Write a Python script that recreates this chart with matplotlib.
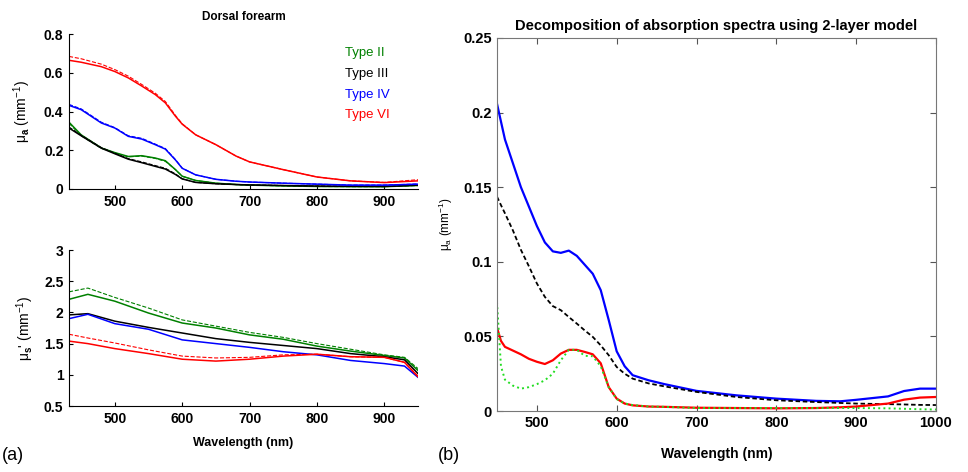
import numpy as np
import matplotlib
matplotlib.use("Agg")
import matplotlib.pyplot as plt

plt.rcParams['font.family'] = ['Liberation Sans', 'DejaVu Sans']
plt.rcParams['mathtext.fontset'] = 'custom'
plt.rcParams['mathtext.rm'] = 'Liberation Sans'
plt.rcParams['mathtext.it'] = 'Liberation Sans:italic'
plt.rcParams['mathtext.bf'] = 'Liberation Sans:bold'

# ---- (a) top: absorption, dorsal forearm ----
wl_abs = [432, 450, 480, 500, 520, 540, 560, 575, 590, 600, 620, 650, 680, 700, 750, 800, 850, 900, 950]
mua_type2 = [0.345, 0.28, 0.212, 0.188, 0.168, 0.172, 0.16, 0.146, 0.10, 0.066, 0.044, 0.03, 0.023, 0.02, 0.016, 0.013, 0.012, 0.012, 0.018]
mua_type2_b = [0.34, 0.275, 0.21, 0.186, 0.166, 0.17, 0.158, 0.143, 0.10, 0.066, 0.044, 0.03, 0.023, 0.02, 0.016, 0.013, 0.012, 0.012, 0.018]
mua_type3 = [0.315, 0.275, 0.211, 0.182, 0.154, 0.136, 0.117, 0.103, 0.075, 0.052, 0.034, 0.027, 0.023, 0.021, 0.018, 0.015, 0.014, 0.013, 0.02]
mua_type3_b = [0.32, 0.278, 0.214, 0.185, 0.157, 0.14, 0.121, 0.107, 0.078, 0.053, 0.034, 0.027, 0.023, 0.021, 0.018, 0.015, 0.014, 0.013, 0.02]
mua_type4 = [0.432, 0.41, 0.341, 0.315, 0.272, 0.258, 0.229, 0.206, 0.15, 0.107, 0.073, 0.05, 0.04, 0.036, 0.03, 0.025, 0.02, 0.02, 0.025]
mua_type4_b = [0.437, 0.414, 0.345, 0.317, 0.275, 0.262, 0.232, 0.209, 0.152, 0.108, 0.073, 0.05, 0.04, 0.036, 0.03, 0.025, 0.02, 0.02, 0.026]
mua_type6 = [0.665, 0.655, 0.632, 0.607, 0.574, 0.532, 0.488, 0.445, 0.376, 0.335, 0.28, 0.229, 0.17, 0.14, 0.10, 0.062, 0.042, 0.033, 0.042]
mua_type6_b = [0.685, 0.673, 0.645, 0.617, 0.583, 0.540, 0.495, 0.452, 0.38, 0.337, 0.28, 0.229, 0.17, 0.14, 0.10, 0.062, 0.042, 0.034, 0.048]

# ---- (a) bottom: reduced scattering ----
wl_sca = [432, 460, 500, 550, 600, 650, 700, 750, 800, 850, 900, 930, 950]
mus_type2 = [2.21, 2.29, 2.18, 1.99, 1.83, 1.75, 1.64, 1.57, 1.46, 1.38, 1.31, 1.27, 1.07]
mus_type2_b = [2.33, 2.39, 2.24, 2.07, 1.88, 1.78, 1.68, 1.60, 1.50, 1.41, 1.32, 1.28, 1.10]
mus_type3 = [1.96, 1.98, 1.86, 1.76, 1.67, 1.58, 1.52, 1.47, 1.42, 1.34, 1.29, 1.24, 1.02]
mus_type4 = [1.90, 1.97, 1.82, 1.73, 1.56, 1.50, 1.44, 1.37, 1.32, 1.23, 1.18, 1.14, 0.96]
mus_type6 = [1.54, 1.50, 1.42, 1.34, 1.25, 1.22, 1.25, 1.30, 1.33, 1.29, 1.28, 1.20, 0.97]
mus_type6_b = [1.65, 1.59, 1.51, 1.40, 1.30, 1.27, 1.28, 1.32, 1.33, 1.29, 1.28, 1.20, 0.98]

# ---- (b) two-layer decomposition ----
wl_dec = [450, 455, 460, 470, 480, 490, 500, 510, 520, 530, 540, 550, 560, 570, 580, 590,
          600, 610, 620, 640, 660, 700, 750, 800, 850, 880, 900, 940, 960, 980, 1000]
dec_blue = [0.206, 0.194, 0.182, 0.166, 0.150, 0.137, 0.124, 0.113, 0.107, 0.106, 0.1075, 0.104, 0.098, 0.092, 0.081, 0.061,
            0.040, 0.030, 0.024, 0.0206, 0.018, 0.0135, 0.0105, 0.0083, 0.0068, 0.0065, 0.0075, 0.0098, 0.0134, 0.015, 0.015]
dec_black = [0.1437, 0.138, 0.1325, 0.121, 0.108, 0.097, 0.0855, 0.0765, 0.0703, 0.0676, 0.063, 0.0586, 0.054, 0.0497, 0.044, 0.0374,
             0.0295, 0.025, 0.0217, 0.0185, 0.0165, 0.0128, 0.0094, 0.0072, 0.006, 0.0054, 0.005, 0.0046, 0.0044, 0.0041, 0.004]
dec_red = [0.056, 0.047, 0.043, 0.0405, 0.038, 0.035, 0.033, 0.0315, 0.034, 0.0385, 0.041, 0.041, 0.0396, 0.038, 0.032, 0.016,
           0.0083, 0.005, 0.0038, 0.003, 0.0028, 0.0022, 0.002, 0.0018, 0.002, 0.0025, 0.003, 0.005, 0.0076, 0.009, 0.0094]
dec_green = [0.073, 0.030, 0.021, 0.017, 0.015, 0.016, 0.018, 0.0206, 0.025, 0.034, 0.041, 0.041, 0.037, 0.0367, 0.030, 0.016,
             0.008, 0.005, 0.004, 0.003, 0.0028, 0.002, 0.002, 0.002, 0.002, 0.002, 0.002, 0.0018, 0.0015, 0.0012, 0.001]

type_names = ['Type II', 'Type III', 'Type IV', 'Type VI']
type_colors = ['#008000', '#000000', '#0000ff', '#ff0000']

fig = plt.figure(figsize=(9.68, 4.72), dpi=100)
ax_top = fig.add_axes([0.0713, 0.5996, 0.3605, 0.328])
ax_bot = fig.add_axes([0.0713, 0.1398, 0.3605, 0.3305])
ax_b = fig.add_axes([0.5134, 0.1292, 0.4535, 0.7903])

tick_font = dict(fontsize=10, fontweight='bold')

for ax in (ax_top, ax_bot):
  ax.spines['top'].set_visible(False)
  ax.spines['right'].set_visible(False)
  ax.tick_params(direction='in', length=3, width=0.8, top=False, right=False, pad=4)
  ax.set_xlim(432, 950)
  ax.set_xticks([500, 600, 700, 800, 900])

# absorption
pairs_top = [(mua_type2, mua_type2_b), (mua_type3, mua_type3_b),
             (mua_type4, mua_type4_b), (mua_type6, mua_type6_b)]
for (solid, dashed), c in zip(pairs_top, type_colors):
  ax_top.plot(wl_abs, solid, color=c, lw=1.1)
  ax_top.plot(wl_abs, dashed, color=c, lw=0.8, ls='--')
ax_top.set_ylim(0, 0.8)
ax_top.set_yticks([0, 0.2, 0.4, 0.6, 0.8])
ax_top.set_yticklabels(['0', '0.2', '0.4', '0.6', '0.8'], **tick_font)
ax_top.set_xticklabels(['500', '600', '700', '800', '900'], **tick_font)
ax_top.set_ylabel(r'μ$_\mathbf{a}$ (mm$^{-1}$)', fontsize=10, labelpad=8)
ax_top.set_title('Dorsal forearm', fontsize=8.5, fontweight='bold', pad=10)
for i, (name, c) in enumerate(zip(type_names, type_colors)):
  ax_top.text(0.79, 0.88 - i * 0.135, name, color=c, fontsize=9.5,
              transform=ax_top.transAxes, va='center')

# reduced scattering
ax_bot.plot(wl_sca, mus_type2, color=type_colors[0], lw=1.1)
ax_bot.plot(wl_sca, mus_type2_b, color=type_colors[0], lw=0.8, ls='--')
ax_bot.plot(wl_sca, mus_type3, color=type_colors[1], lw=1.1)
ax_bot.plot(wl_sca, mus_type4, color=type_colors[2], lw=1.1)
ax_bot.plot(wl_sca, mus_type6, color=type_colors[3], lw=1.1)
ax_bot.plot(wl_sca, mus_type6_b, color=type_colors[3], lw=0.8, ls='--')
ax_bot.set_ylim(0.5, 3)
ax_bot.set_yticks([0.5, 1, 1.5, 2, 2.5, 3])
ax_bot.set_yticklabels(['0.5', '1', '1.5', '2', '2.5', '3'], **tick_font)
ax_bot.set_xticklabels(['500', '600', '700', '800', '900'], **tick_font)
ax_bot.set_ylabel(r"μ$_\mathbf{s}$' (mm$^{-1}$)", fontsize=10, labelpad=6)
ax_bot.set_xlabel('Wavelength (nm)', fontsize=9, fontweight='bold', labelpad=8)

# two-layer model
ax_b.plot(wl_dec, dec_blue, color='#0000ff', lw=1.6)
ax_b.plot(wl_dec, dec_black, color='#000000', lw=1.3, ls=(0, (2.5, 1.5)))
ax_b.plot(wl_dec, dec_red, color='#ff0000', lw=1.6)
ax_b.plot(wl_dec, dec_green, color='#22dd22', lw=1.4, ls=':')
ax_b.set_xlim(450, 1000)
ax_b.set_ylim(0, 0.25)
ax_b.set_xticks([500, 600, 700, 800, 900, 1000])
ax_b.set_yticks([0, 0.05, 0.1, 0.15, 0.2, 0.25])
ax_b.set_xticklabels(['500', '600', '700', '800', '900', '1000'], fontsize=10.5, fontweight='bold')
ax_b.set_yticklabels(['0', '0.05', '0.1', '0.15', '0.2', '0.25'], fontsize=10.5, fontweight='bold')
ax_b.tick_params(direction='in', length=4, width=0.8, top=True, right=True, colors='#555555',
                 labelcolor='black')
for s in ax_b.spines.values():
  s.set_color('#777777')
ax_b.set_ylabel(r'μ$_\mathrm{a}$ (mm$^{-1}$)', fontsize=8.5, labelpad=6)
ax_b.set_xlabel('Wavelength (nm)', fontsize=10, fontweight='bold', labelpad=12)
ax_b.set_title('Decomposition of absorption spectra using 2-layer model',
               fontsize=10.5, fontweight='bold', pad=6)

fig.text(0.002, 0.036, '(a)', fontsize=13, va='center')
fig.text(0.452, 0.036, '(b)', fontsize=13, va='center')

fig.savefig('out.png', dpi=100)
